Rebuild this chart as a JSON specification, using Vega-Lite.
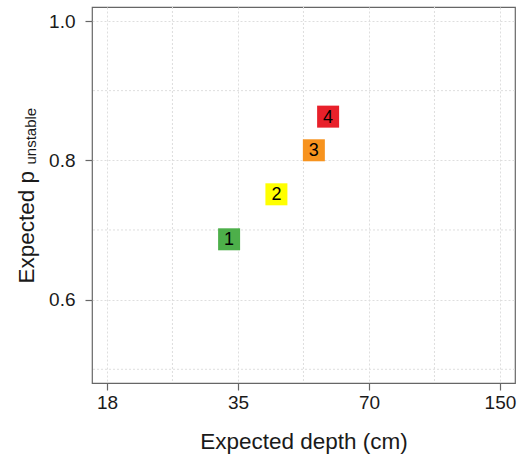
{
  "$schema": "https://vega.github.io/schema/vega-lite/v6.json",
  "width": 423,
  "height": 376,
  "autosize": "none",
  "padding": {"left": 92, "top": 7, "right": 11, "bottom": 71},
  "background": "white",
  "config": {
    "view": {"stroke": "#666666", "strokeWidth": 1.2},
    "axis": {
      "domain": false,
      "tickColor": "#666666",
      "tickSize": 7,
      "tickWidth": 1.2,
      "labelFont": "Liberation Sans",
      "labelFontSize": 19,
      "labelColor": "#1a1a1a",
      "titleFont": "Liberation Sans",
      "titleFontWeight": "normal",
      "titleColor": "#1a1a1a",
      "gridColor": "#dedede",
      "gridDash": [2, 2],
      "gridWidth": 1
    }
  },
  "resolve": {"axis": {"x": "independent", "y": "independent"}},
  "layer": [
    {
      "data": {"values": [{"g": 24.75}, {"g": 49.5}, {"g": 99}]},
      "mark": {"type": "rule", "color": "#dedede", "strokeDash": [2, 2], "strokeWidth": 1},
      "encoding": {
        "x": {"field": "g", "type": "quantitative", "scale": {"type": "log", "base": 2, "domain": [16.17, 151.6], "nice": false}, "axis": null}
      }
    },
    {
      "data": {"values": [{"g": 0.5}, {"g": 0.7}, {"g": 0.9}]},
      "mark": {"type": "rule", "color": "#dedede", "strokeDash": [2, 2], "strokeWidth": 1},
      "encoding": {
        "y": {"field": "g", "type": "quantitative", "scale": {"domain": [0.4803, 1.0201], "nice": false, "zero": false},
          "axis": {"orient": "left", "title": "unstable", "titleFontSize": 15, "titleAngle": 270, "titleAlign": "left", "titleBaseline": "alphabetic", "titleX": -57, "titleY": 157, "labels": false, "ticks": false, "grid": false, "domain": false}}
      }
    },
    {
      "data": {"name": "pts"},
      "mark": {"type": "square", "size": 484, "opacity": 1},
      "encoding": {
        "x": {"field": "depth", "type": "quantitative", "scale": {"type": "log", "base": 2, "domain": [16.17, 151.6], "nice": false},
          "axis": {"orient": "bottom", "values": [17.5, 35, 70, 140], "labelExpr": "datum.value == 17.5 ? '18' : datum.value == 140 ? '150' : datum.label", "title": "Expected depth (cm)", "titleFontSize": 22.5, "titleBaseline": "alphabetic", "titleY": 65, "labelPadding": 3, "grid": true}},
        "y": {"field": "p", "type": "quantitative", "scale": {"domain": [0.4803, 1.0201], "nice": false, "zero": false},
          "axis": {"orient": "left", "values": [0.6, 0.8, 1.0], "format": ".1f", "title": "Expected  p", "titleFontSize": 22.5, "titleAngle": 270, "titleAlign": "left", "titleBaseline": "alphabetic", "titleX": -59, "titleY": 276, "labelPadding": 10, "grid": true}},
        "fill": {"field": "lab", "type": "nominal", "scale": {"domain": ["1", "2", "3", "4"], "range": ["#4DAF4A", "#FFFF00", "#F7931E", "#E8202A"]}, "legend": null}
      }
    },
    {
      "data": {"name": "pts"},
      "mark": {"type": "text", "fontSize": 18, "font": "Liberation Sans", "color": "#000000", "baseline": "middle", "align": "center", "dy": 1},
      "encoding": {
        "x": {"field": "depth", "type": "quantitative", "scale": {"type": "log", "base": 2, "domain": [16.17, 151.6], "nice": false}, "axis": null},
        "y": {"field": "p", "type": "quantitative", "scale": {"domain": [0.4803, 1.0201], "nice": false, "zero": false}, "axis": null},
        "text": {"field": "lab"}
      }
    }
  ],
  "datasets": {
    "pts": [
      {"lab": "1", "depth": 33.4, "p": 0.6866},
      {"lab": "2", "depth": 42.9, "p": 0.7512},
      {"lab": "3", "depth": 52.3, "p": 0.8144},
      {"lab": "4", "depth": 56.4, "p": 0.8627}
    ]
  }
}
